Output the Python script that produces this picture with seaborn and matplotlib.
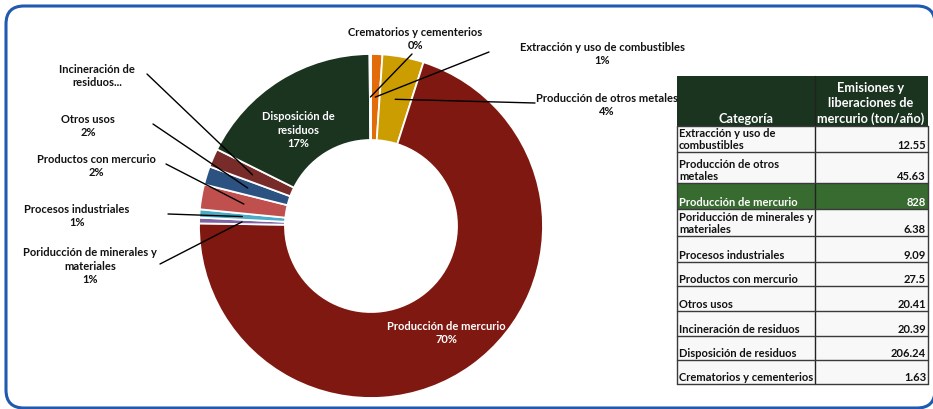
import matplotlib
matplotlib.use("Agg")
import matplotlib.pyplot as plt
from matplotlib.patches import FancyBboxPatch, Rectangle
import numpy as np
import seaborn as sns

# ---------------- data ----------------
categories = [
    "Extracción y uso de combustibles",
    "Producción de otros metales",
    "Producción de mercurio",
    "Poriducción de minerales y materiales",
    "Procesos industriales",
    "Productos con mercurio",
    "Otros usos",
    "Incineración de residuos",
    "Disposición de residuos",
    "Crematorios y cementerios",
]
values = [12.55, 45.63, 828, 6.38, 9.09, 27.5, 20.41, 20.39, 206.24, 1.63]
pct_labels = ["1%", "4%", "70%", "1%", "1%", "2%", "2%", "", "17%", "0%"]
pie_names = [
    "Extracción y uso de combustibles",
    "Producción de otros metales",
    "Producción de mercurio",
    "Poriducción de minerales y\nmateriales",
    "Procesos industriales",
    "Productos con mercurio",
    "Otros usos",
    "Incineración de\nresiduos...",
    "Disposición de\nresiduos",
    "Crematorios y cementerios",
]
table_names = [
    "Extracción y uso de\ncombustibles",
    "Producción de otros\nmetales",
    "Producción de mercurio",
    "Poriducción de minerales y\nmateriales",
    "Procesos industriales",
    "Productos con mercurio",
    "Otros usos",
    "Incineración de residuos",
    "Disposición de residuos",
    "Crematorios y cementerios",
]
header_cat = "Categoría"
header_val = "Emisiones y\nliberaciones de\nmercurio (ton/año)"
highlight_row = 2

colors = sns.color_palette([
    "#E36C0A", "#CC9D00", "#7F1810", "#8064A2", "#4BACC6",
    "#C0504D", "#2C5282", "#772C2A", "#1B3420", "#A5A5A5",
])

# ---------------- figure ----------------
sns.set_style("white")
plt.rcParams["font.family"] = ["Lato", "DejaVu Sans"]
plt.rcParams["font.weight"] = "bold"

W, H = 933, 410
fig = plt.figure(figsize=(W / 100, H / 100), dpi=100)

# overlay axes in pixel coordinates (for frame + table)
ov = fig.add_axes([0, 0, 1, 1], zorder=0)
ov.set_xlim(0, W)
ov.set_ylim(H, 0)
ov.axis("off")
ov.patch.set_alpha(0)

# rounded blue frame
ov.add_patch(FancyBboxPatch((6, 7), 929, 402, boxstyle="round,pad=0,rounding_size=18",
                            fc="white", ec="#1F5AAE", lw=2.2, zorder=0))

# ---------------- donut ----------------
cx, cy, R = 371, 227, 172
ax = fig.add_axes([(cx - R) / W, (H - cy - R) / H, 2 * R / W, 2 * R / H], zorder=2)
ax.patch.set_alpha(0)
wedges, _ = ax.pie(values, colors=colors, startangle=90, counterclock=False, radius=1,
                   wedgeprops=dict(width=0.5, edgecolor="white", linewidth=1.3))
ax.set_xlim(-1, 1)
ax.set_ylim(-1, 1)
ax.set_aspect("equal")
ax.axis("off")

fs = 8.0
# label layout (pixel centers) and leader line start points
outside = {
    9: ((415, 39), (412, 55)),
    0: ((602, 54), (489, 53)),
    1: ((607, 105), (535, 104)),
    7: ((97, 76), (147, 75)),
    6: ((88, 126), (153, 125)),
    5: ((96, 166), (166, 165)),
    4: ((77, 216), (168, 215)),
    3: ((90, 266), (160, 265)),
}
inside = {8: (298, 130), 2: (446, 333)}

for i, w in enumerate(wedges):
    mid = np.deg2rad((w.theta1 + w.theta2) / 2)
    anchor = (0.75 * np.cos(mid), 0.75 * np.sin(mid))
    txt = pie_names[i] + ("\n" + pct_labels[i] if pct_labels[i] else "")
    if i in outside:
        (tx, ty), (lx, ly) = outside[i]
        fig.text(tx / W, 1 - ty / H, txt, ha="center", va="center", fontsize=fs,
                 fontweight="bold", color="#111111", linespacing=1.3)
        ax.annotate("", xy=anchor, xycoords="data", xytext=(lx, H - ly),
                    textcoords="figure pixels",
                    arrowprops=dict(arrowstyle="-", color="black", lw=1.0,
                                    shrinkA=0, shrinkB=0))
    elif i in inside:
        tx, ty = inside[i]
        fig.text(tx / W, 1 - ty / H, txt, ha="center", va="center", fontsize=fs,
                 fontweight="bold", color="white", linespacing=1.3, zorder=5)

# ---------------- table ----------------
tx0, tx1, tx2 = 677, 815, 928
head_top, head_bot = 77, 127
row_edges = [127, 153, 184, 210, 237, 263, 287, 312, 337, 361, 385]
line_c = "#3A3A3A"

ov.add_patch(Rectangle((tx0, head_top), tx2 - tx0, head_bot - head_top,
                       fc="#1B3420", ec="none", zorder=1))
ov.add_patch(Rectangle((tx0, row_edges[0]), tx2 - tx0, row_edges[-1] - row_edges[0],
                       fc="#F8F8F8", ec="none", zorder=1))
r0, r1 = row_edges[highlight_row], row_edges[highlight_row + 1]
ov.add_patch(Rectangle((tx0, r0), tx2 - tx0, r1 - r0, fc="#386B30", ec="none", zorder=1))

ov.plot([tx1, tx1], [head_top, row_edges[-1]], color="#222222", lw=1.0, zorder=2)
ov.plot([tx0, tx0], [row_edges[0], row_edges[-1]], color=line_c, lw=1.0, zorder=2)
ov.plot([tx2, tx2], [row_edges[0], row_edges[-1]], color=line_c, lw=1.0, zorder=2)
for e in row_edges:
    ov.plot([tx0, tx2], [e, e], color=line_c, lw=1.0, zorder=2)

ov.text((tx0 + tx1) / 2, head_bot - 2, header_cat, ha="center", va="bottom",
        fontsize=9.2, fontweight="bold", color="white", zorder=3)
ov.text((tx1 + tx2) / 2 - 1, head_bot - 2, header_val, ha="center", va="bottom",
        fontsize=9.2, fontweight="bold", color="white", linespacing=1.3, zorder=3)

for i, (name, v) in enumerate(zip(table_names, values)):
    bot = row_edges[i + 1]
    c = "white" if i == highlight_row else "#111111"
    ov.text(tx0 + 2, bot - 1.5, name, ha="left", va="bottom", fontsize=fs,
            fontweight="bold", color=c, linespacing=1.15, zorder=3)
    ov.text(tx2 - 2, bot - 1.5, f"{v:g}", ha="right", va="bottom", fontsize=fs,
            fontweight="bold", color=c, zorder=3)

fig.savefig("out.png", dpi=100)
